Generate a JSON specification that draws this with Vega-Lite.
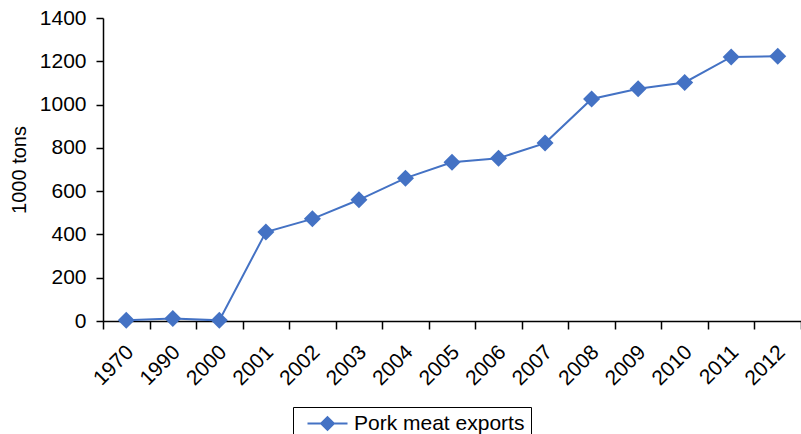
{
  "$schema": "https://vega.github.io/schema/vega-lite/v6.json",
  "width": 698,
  "height": 303,
  "autosize": {"type": "none"},
  "padding": {"left": 103, "top": 18, "right": 0, "bottom": 113},
  "background": "white",
  "config": {
    "view": {"stroke": null},
    "font": "Liberation Sans",
    "axis": {"labelFont": "Liberation Sans", "titleFont": "Liberation Sans", "labelColor": "black", "titleColor": "black", "domainColor": "black", "tickColor": "black", "grid": false}
  },
  "data": {
    "values": [
      {"year": "1970", "value": 3},
      {"year": "1990", "value": 12},
      {"year": "2000", "value": 3},
      {"year": "2001", "value": 411},
      {"year": "2002", "value": 472},
      {"year": "2003", "value": 560},
      {"year": "2004", "value": 660},
      {"year": "2005", "value": 733},
      {"year": "2006", "value": 752},
      {"year": "2007", "value": 822},
      {"year": "2008", "value": 1026},
      {"year": "2009", "value": 1073},
      {"year": "2010", "value": 1102},
      {"year": "2011", "value": 1220},
      {"year": "2012", "value": 1223}
    ]
  },
  "encoding": {
    "x": {
      "field": "year", "type": "ordinal", "sort": null,
      "scale": {"paddingInner": 0, "paddingOuter": 0},
      "axis": {"title": null, "labelAngle": -45, "labelFontSize": 21, "tickBand": "extent", "tickSize": 8, "labelPadding": 12, "labelOffset": -4, "domainWidth": 1.5, "tickWidth": 1.5}
    },
    "y": {
      "field": "value", "type": "quantitative",
      "scale": {"domain": [0, 1400], "nice": false},
      "axis": {"title": "1000 tons", "titleFontSize": 20, "titleFontWeight": "normal", "titlePadding": 10, "labelFontSize": 21, "format": "d", "values": [0, 200, 400, 600, 800, 1000, 1200, 1400], "tickSize": 7, "labelPadding": 10, "domainWidth": 1.5, "tickWidth": 1.5}
    },
    "color": {
      "datum": "Pork meat exports",
      "scale": {"range": ["#4472C4"]},
      "legend": {
        "title": null,
        "orient": "none",
        "legendX": 190,
        "legendY": 389,
        "strokeColor": "black",
        "padding": 6,
        "labelFontSize": 21,
        "labelLimit": 400,
        "labelColor": "black",
        "labelFont": "Liberation Sans",
        "labelOffset": 34,
        "symbolSize": 256,
        "symbolType": "M-0.25,0H4.75M2.25,-0.8L3.05,0L2.25,0.8L1.45,0Z",
        "symbolFillColor": "#4472C4",
        "symbolStrokeColor": "#4472C4",
        "symbolStrokeWidth": 2,
        "symbolOpacity": 1
      }
    }
  },
  "layer": [
    {"mark": {"type": "line", "strokeWidth": 2}},
    {"mark": {"type": "point", "shape": "diamond", "filled": true, "size": 290, "opacity": 1}}
  ]
}
